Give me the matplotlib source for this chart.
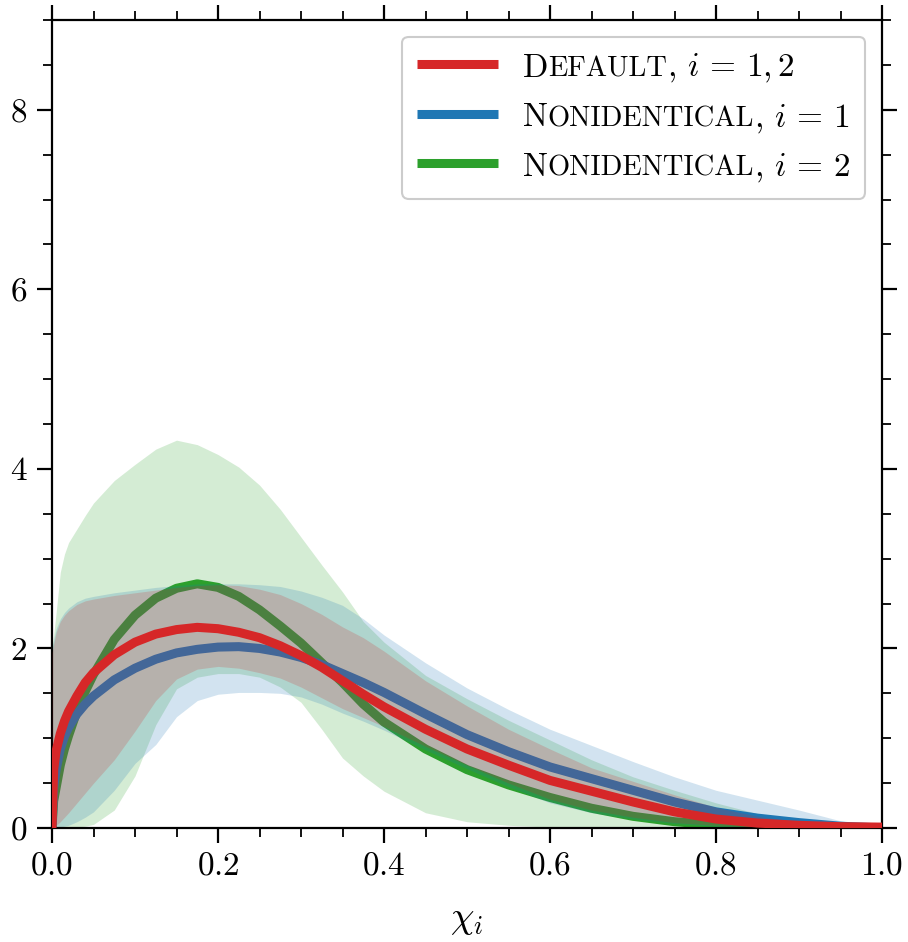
import matplotlib

matplotlib.use("Agg")
import matplotlib.pyplot as plt  # noqa: E402
from matplotlib.lines import Line2D  # noqa: E402
from matplotlib.offsetbox import (  # noqa: E402
    AnchoredOffsetbox,
    DrawingArea,
    HPacker,
    TextArea,
    VPacker,
)
from matplotlib.ticker import MultipleLocator  # noqa: E402

plt.rcParams["font.family"] = "cmr10"
plt.rcParams["mathtext.fontset"] = "cm"
plt.rcParams["axes.formatter.use_mathtext"] = True

# chi_i grid the curves were read on (denser near 0 where they shoot up)
CHI = [0, 0.002, 0.005, 0.01, 0.015, 0.02, 0.03, 0.04, 0.05, 0.075, 0.1, 0.125,
       0.15, 0.175, 0.2, 0.225, 0.25, 0.275, 0.3, 0.325, 0.35, 0.375, 0.4, 0.45,
       0.5, 0.55, 0.6, 0.65, 0.7, 0.75, 0.8, 0.85, 0.9, 0.95, 1.0]

# Default, i = 1,2 : median and band
DEFAULT_MED = [0, 0.65, 0.86, 1.05, 1.19, 1.30, 1.47, 1.62, 1.73, 1.93, 2.07, 2.16,
               2.21, 2.235, 2.22, 2.18, 2.12, 2.03, 1.92, 1.79, 1.64, 1.49, 1.35, 1.10,
               0.88, 0.70, 0.53, 0.41, 0.29, 0.18, 0.10, 0.055, 0.03, 0.015, 0.01]
DEFAULT_LO = [0, 0.01, 0.03, 0.07, 0.12, 0.17, 0.28, 0.39, 0.50, 0.76, 1.08, 1.42,
              1.66, 1.77, 1.80, 1.78, 1.73, 1.67, 1.57, 1.45, 1.33, 1.23, 1.13, 0.91,
              0.70, 0.50, 0.32, 0.20, 0.12, 0.06, 0.03, 0.01, 0, 0, 0]
DEFAULT_HI = [1.95, 2.05, 2.18, 2.30, 2.37, 2.42, 2.49, 2.53, 2.55, 2.59, 2.62, 2.65,
              2.68, 2.70, 2.71, 2.70, 2.66, 2.60, 2.50, 2.38, 2.24, 2.12, 1.97, 1.64,
              1.36, 1.10, 0.88, 0.67, 0.52, 0.37, 0.23, 0.13, 0.07, 0.02, 0]

# Nonidentical, i = 1
NONID1_MED = [0, 0.45, 0.65, 0.88, 1.02, 1.12, 1.27, 1.38, 1.47, 1.65, 1.78, 1.88,
              1.95, 1.99, 2.015, 2.02, 2.00, 1.96, 1.90, 1.82, 1.72, 1.62, 1.51, 1.27,
              1.04, 0.85, 0.68, 0.55, 0.42, 0.29, 0.18, 0.11, 0.06, 0.02, 0]
NONID1_LO = [0, 0, 0, 0.01, 0.02, 0.03, 0.07, 0.12, 0.18, 0.42, 0.72, 0.93,
             1.24, 1.42, 1.49, 1.51, 1.51, 1.50, 1.46, 1.38, 1.28, 1.19, 1.09, 0.87,
             0.66, 0.46, 0.28, 0.17, 0.10, 0.05, 0.02, 0.01, 0, 0, 0]
NONID1_HI = [2.00, 2.10, 2.22, 2.33, 2.40, 2.45, 2.52, 2.56, 2.58, 2.62, 2.65, 2.68,
             2.70, 2.72, 2.72, 2.72, 2.71, 2.69, 2.64, 2.57, 2.48, 2.33, 2.15, 1.84,
             1.56, 1.32, 1.10, 0.92, 0.74, 0.57, 0.42, 0.31, 0.20, 0.08, 0.01]

# Nonidentical, i = 2
NONID2_MED = [0, 0.30, 0.45, 0.70, 0.88, 1.03, 1.30, 1.52, 1.71, 2.10, 2.37, 2.56,
              2.67, 2.72, 2.68, 2.58, 2.43, 2.25, 2.06, 1.84, 1.62, 1.38, 1.18, 0.88,
              0.65, 0.48, 0.34, 0.22, 0.13, 0.07, 0.035, 0.015, 0.005, 0, 0]
NONID2_LO = [0, 0, 0, 0, 0, 0, 0.01, 0.02, 0.04, 0.20, 0.58, 1.15,
             1.55, 1.68, 1.72, 1.72, 1.68, 1.57, 1.40, 1.10, 0.78, 0.58, 0.41, 0.17,
             0.07, 0.03, 0.01, 0, 0, 0, 0, 0, 0, 0, 0]
NONID2_HI = [2.00, 2.15, 2.40, 2.85, 3.05, 3.18, 3.33, 3.48, 3.62, 3.87, 4.05, 4.22,
             4.32, 4.27, 4.16, 4.02, 3.82, 3.55, 3.24, 2.93, 2.63, 2.30, 2.07, 1.70,
             1.44, 1.20, 0.98, 0.76, 0.57, 0.42, 0.28, 0.16, 0.09, 0.03, 0]

RED, BLUE, GREEN = "#d62728", "#1f77b4", "#2ca02c"

# drawn back to front: each band sits over the curves drawn before it
SERIES = [
    (NONID2_MED, NONID2_LO, NONID2_HI, GREEN),
    (NONID1_MED, NONID1_LO, NONID1_HI, BLUE),
    (DEFAULT_MED, DEFAULT_LO, DEFAULT_HI, RED),
]

# legend rows: (colour, capital, small caps rest, tail)
LEGEND = [
    (RED, "D", "EFAULT", r", $i\,=\,1, 2$"),
    (BLUE, "N", "ONIDENTICAL", r", $i\,=\,1$"),
    (GREEN, "N", "ONIDENTICAL", r", $i\,=\,2$"),
]

FS = 24
SC_FS = 20.5
LW = 6.5

fig = plt.figure(figsize=(9.08, 9.42), dpi=100)
ax = fig.add_axes([52 / 908, 114 / 942, 830 / 908, 808 / 942])

z = 1
for med, lo, hi, color in SERIES:
    ax.fill_between(CHI, lo, hi, color=color, alpha=0.2, linewidth=0, zorder=z)
    ax.plot(CHI, med, color=color, lw=LW, zorder=z - 0.5, solid_capstyle="butt")
    z += 1
# the default median ends up on top of everything
ax.lines[-1].set_zorder(10)

ax.set_xlim(0, 1)
ax.set_ylim(0, 9)
ax.xaxis.set_major_locator(MultipleLocator(0.2))
ax.xaxis.set_minor_locator(MultipleLocator(0.05))
ax.yaxis.set_major_locator(MultipleLocator(2))
ax.yaxis.set_minor_locator(MultipleLocator(0.5))
ax.tick_params(which="both", direction="out", top=True, right=True, labelsize=FS)
ax.tick_params(which="major", length=10.8, width=1.6)
ax.tick_params(axis="x", which="major", pad=6)
ax.tick_params(axis="y", which="major", pad=7)
ax.tick_params(which="minor", length=6.5, width=1.3)
for sp in ax.spines.values():
    sp.set_linewidth(1.6)
ax.set_xlabel(r"$\chi_i$", fontsize=27, labelpad=17)

# small-caps legend built by hand (mathtext has no \textsc)
rows = []
for color, cap, rest, tail in LEGEND:
    handle = DrawingArea(58, 18, 0, 0)
    handle.add_artist(Line2D([0, 58], [9, 9], color=color, lw=LW, solid_capstyle="butt"))
    words = HPacker(
        children=[
            TextArea(cap, textprops=dict(size=FS)),
            TextArea(rest, textprops=dict(size=SC_FS)),
            TextArea(tail, textprops=dict(size=FS)),
        ],
        align="baseline",
        pad=0,
        sep=0,
    )
    rows.append(HPacker(children=[handle, words], align="baseline", pad=0, sep=18))
box = VPacker(children=rows, align="left", pad=0, sep=11.5)
leg = AnchoredOffsetbox(
    loc="upper right",
    child=box,
    pad=0.45,
    borderpad=0.5,
    frameon=True,
    prop=dict(size=FS),
)
leg.patch.set_boxstyle("round,pad=0,rounding_size=0.2")
leg.patch.set_edgecolor("0.8")
leg.patch.set_linewidth(1.5)
leg.set_zorder(20)
ax.add_artist(leg)

fig.savefig("out.png", dpi=100)
